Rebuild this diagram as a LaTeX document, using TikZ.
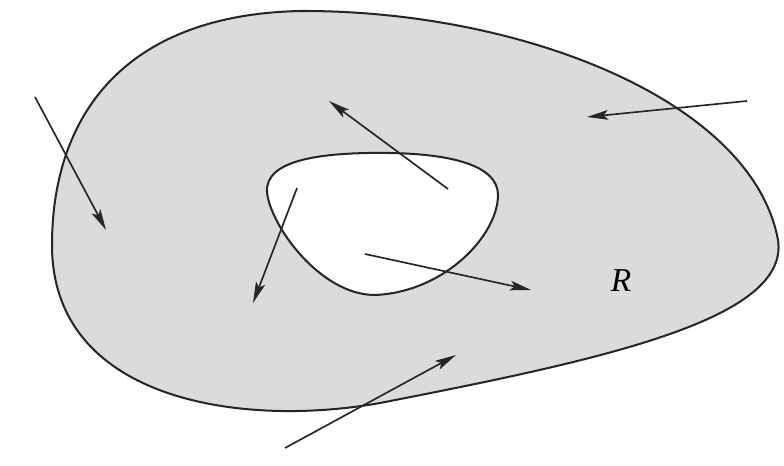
\documentclass[tikz,border=0pt]{standalone}
\usepackage{fontspec}
\setmainfont{Liberation Serif}
\usetikzlibrary{arrows.meta}
\begin{document}
\begin{tikzpicture}[x=0.02cm,y=-0.02cm,
  region/.style={draw=black!85,line width=1.15pt,fill=black!14},
  hole/.style={draw=black!85,line width=1.15pt,fill=white},
  vec/.style={draw=black!85,line width=0.95pt,-{Stealth[length=12pt,width=5.5pt,inset=2.5pt]}}]
\useasboundingbox (0,0) rectangle (784,466);
\draw[region] (52,245) .. controls (52,120) and (120,15) .. (300,11)
  .. controls (520,10) and (752,100) .. (778,240)
  .. controls (790,320) and (600,360) .. (380,403)
  .. controls (240,428) and (52,400) .. (52,245) -- cycle;
\draw[hole] (267,192) .. controls (265,160) and (320,152) .. (390,153)
  .. controls (450,154) and (498,165) .. (498,195)
  .. controls (498,235) and (445,292) .. (375,295)
  .. controls (320,295) and (270,225) .. (267,192) -- cycle;
\coordinate (a1) at (35,97);  \coordinate (b1) at (106,230);
\coordinate (a2) at (448,189); \coordinate (b2) at (329,101);
\coordinate (a3) at (747,101); \coordinate (b3) at (587,117);
\coordinate (a4) at (297,188); \coordinate (b4) at (253,303);
\coordinate (a5) at (365,254); \coordinate (b5) at (531,290);
\coordinate (a6) at (285,448); \coordinate (b6) at (456,355);
\foreach \i in {1,...,6} \draw[vec] (a\i) -- (b\i);
\node[font=\fontsize{19}{21}\selectfont\itshape] (R) at (621,281) {R};
\end{tikzpicture}
\end{document}
